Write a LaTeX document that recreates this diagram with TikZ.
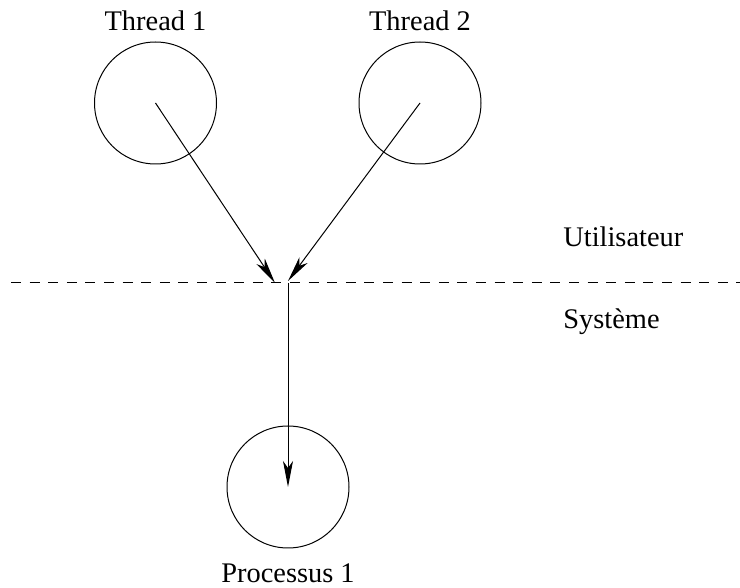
\documentclass[tikz,border=0pt]{standalone}
\usepackage{fontspec}
\setmainfont{Liberation Serif}
\usetikzlibrary{arrows.meta}
\begin{document}
\begin{tikzpicture}[x=0.5pt,y=-0.5pt,
  proc/.style={circle,draw,line width=0.5pt,minimum size=61pt,inner sep=0pt},
  lbl/.style={font=\fontsize{14.2pt}{17pt}\selectfont,inner sep=0pt,anchor=base},
  conn/.style={line width=0.5pt,-{Stealth[length=13pt,width=5pt,inset=3.5pt]}},
  sep/.style={line width=0.5pt,dash pattern=on 5pt off 4.3pt}]
\useasboundingbox (0,0) rectangle (740,588);
\node[proc] (t1) at (155.5,103) {};
\node[proc] (t2) at (420,103) {};
\node[proc] (p1) at (288,487) {};
\node[lbl] (l1) at (155.5,31) {Thread 1};
\node[lbl] (l2) at (420,31) {Thread 2};
\node[lbl] (l3) at (288,582) {Processus 1};
\node[lbl,anchor=base west] (u) at (563,247) {Utilisateur};
\node[lbl,anchor=base west] (s) at (563,329) {Système};
\coordinate (a) at (11,283);
\coordinate (b) at (740,283);
\coordinate (j1) at (275,283);
\coordinate (j2) at (288,281);
\coordinate (j3) at (288,283);
\draw[sep] (a) -- (b);
\draw[conn] (t1.center) -- (j1);
\draw[conn] (t2.center) -- (j2);
\draw[conn] (j3) -- (p1.center);
\end{tikzpicture}
\end{document}
